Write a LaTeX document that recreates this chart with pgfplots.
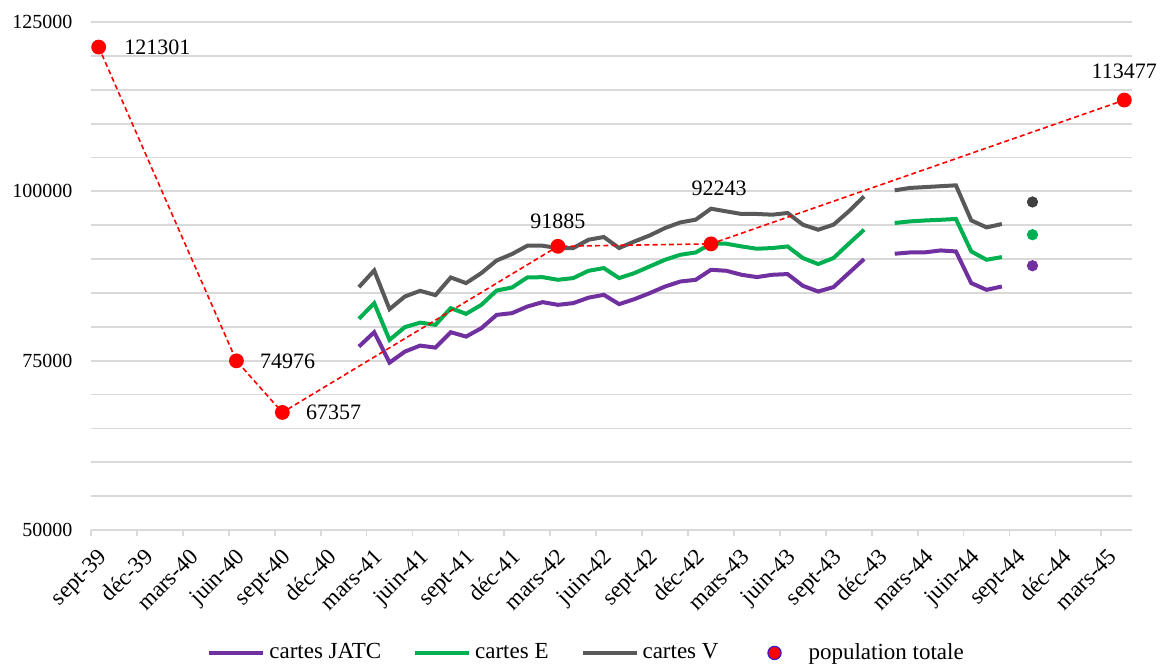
\documentclass[border=0pt]{standalone}
\usepackage{fontspec}
\setmainfont{Liberation Serif}
\usepackage{pgfplots}
\pgfplotsset{compat=1.18}
\definecolor{cJ}{HTML}{7030A0}
\definecolor{cE}{HTML}{00B050}
\definecolor{cV}{HTML}{595959}
\definecolor{cVd}{HTML}{404040}
\definecolor{gridc}{HTML}{D9D9D9}
\definecolor{popc}{HTML}{FF0000}
\newcommand{\fs}{\fontsize{11}{13}\selectfont}
\newcommand{\fl}{\fontsize{11.5}{13.5}\selectfont}
\newcommand{\ft}{\fontsize{10}{12}\selectfont}
\newcommand{\fx}{\fontsize{11.5}{13.5}\selectfont}
\begin{document}
\fs
\begin{tikzpicture}
\begin{axis}[
 scale only axis, width=520.5pt, height=254pt,
 xmin=0, xmax=68, ymin=50000, ymax=125000,
 scaled y ticks=false,
 axis x line*=bottom, axis y line*=left,
 y axis line style={draw=none},
 x axis line style={draw=gridc, line width=0.9pt, -},
 xtick={0,3,...,66},
 xticklabels={sept-39,déc-39,mars-40,juin-40,sept-40,déc-40,mars-41,juin-41,sept-41,déc-41,mars-42,juin-42,sept-42,déc-42,mars-43,juin-43,sept-43,déc-43,mars-44,juin-44,sept-44,déc-44,mars-45},
 x tick label style={xshift=3pt, yshift=-4pt, rotate=45, anchor=north east, font=\fx, inner sep=1pt},
 xtick style={draw=gridc, line width=0.9pt},
 tick align=outside, major tick length=3pt, minor tick length=0pt,
 ytick={50000,75000,100000,125000},
 yticklabels={50000,75000,100000,125000},
 y tick label style={font=\ft, xshift=-2.5pt},
 minor ytick={55000,60000,...,120000},
 ytick style={draw=none},
 ymajorgrids, yminorgrids,
 major grid style={draw=gridc, line width=0.9pt},
 minor grid style={draw=gridc, line width=0.9pt},
 unbounded coords=jump,
 clip=false,
 legend columns=4,
 legend cell align=left,
 legend style={draw=none, fill=none, font=\fl, at={(axis description cs:0.477,-0.242)}, anchor=center,
   /tikz/every even column/.append style={column sep=14pt}},
 legend image code/.code={\draw[#1] (0pt,0pt) -- (27pt,0pt);},
]
\addplot[cJ, line width=2pt, no markers] coordinates {
(17.5,77076) (18.5,79205) (19.5,74709) (20.5,76336) (21.5,77224) (22.5,76928) (23.5,79205) (24.5,78554) (25.5,79797) (26.5,81764) (27.5,82015) (28.5,82992) (29.5,83642) (30.5,83243) (31.5,83494) (32.5,84300) (33.5,84722) (34.5,83347) (35.5,84086) (36.5,84974) (37.5,85949) (38.5,86689) (39.5,86940) (40.5,88420) (41.5,88272) (42.5,87680) (43.5,87340) (44.5,87680) (45.5,87784) (46.5,86053) (47.5,85210) (48.5,85861) (49.5,87931) (50.5,90002) (51.5,nan) (52.5,90786) (53.5,90978) (54.5,91000) (55.5,91274) (56.5,91126) (57.5,86452) (58.5,85462) (59.5,85949)
};
\addlegendentry{cartes JATC}
\addplot[cE, line width=2pt, no markers] coordinates {
(17.5,81172) (18.5,83494) (19.5,78066) (20.5,79945) (21.5,80625) (22.5,80286) (23.5,82755) (24.5,81912) (25.5,83243) (26.5,85357) (27.5,85801) (28.5,87281) (29.5,87330) (30.5,86940) (31.5,87192) (32.5,88272) (33.5,88670) (34.5,87192) (35.5,87931) (36.5,88915) (37.5,89898) (38.5,90638) (39.5,90978) (40.5,92265) (41.5,92265) (42.5,91866) (43.5,91525) (44.5,91628) (45.5,91866) (46.5,90150) (47.5,89263) (48.5,90150) (49.5,92265) (50.5,94336) (51.5,nan) (52.5,95326) (53.5,95563) (54.5,95700) (55.5,95800) (56.5,95918) (57.5,91126) (58.5,89898) (59.5,90297)
};
\addlegendentry{cartes E}
\addplot[cV, line width=2pt, no markers] coordinates {
(17.5,85860) (18.5,88316) (19.5,82607) (20.5,84470) (21.5,85314) (22.5,84678) (23.5,87281) (24.5,86452) (25.5,87931) (26.5,89795) (27.5,90741) (28.5,91969) (29.5,91969) (30.5,91628) (31.5,91628) (32.5,92857) (33.5,93256) (34.5,91628) (35.5,92605) (36.5,93492) (37.5,94587) (38.5,95415) (39.5,95814) (40.5,97441) (41.5,97042) (42.5,96657) (43.5,96657) (44.5,96554) (45.5,96805) (46.5,95075) (47.5,94336) (48.5,95075) (49.5,97042) (50.5,99260) (51.5,nan) (52.5,100148) (53.5,100503) (54.5,100630) (55.5,100760) (56.5,100887) (57.5,95711) (58.5,94676) (59.5,95178)
};
\addlegendentry{cartes V}
\addplot[popc, line width=0.8pt, dash pattern=on 2.5pt off 1.6pt, mark=*, mark size=3.3pt, mark options={solid, fill=popc, draw=popc},
  legend image code/.code={\path[draw=none] (0pt,0pt) -- (27pt,0pt); \draw[solid, fill=popc, draw=cJ!55!blue, line width=0.6pt] (12pt,0pt) circle (3.3pt);}] coordinates {
(0.5,121301) (9.5,74976) (12.5,67357) (30.5,91885) (40.5,92243) (67.5,113477)
};
\addlegendentry{population totale}
\addplot[only marks, mark=*, mark size=2.6pt, cJ, forget plot] coordinates {(61.5,89017)};
\addplot[only marks, mark=*, mark size=2.6pt, cE, forget plot] coordinates {(61.5,93596)};
\addplot[only marks, mark=*, mark size=2.6pt, cVd, forget plot] coordinates {(61.5,98432)};
\node[anchor=west, xshift=9pt, font=\fs] at (axis cs:0.5,121301) {121301};
\node[anchor=west, xshift=8pt, font=\fs] at (axis cs:9.5,74976) {74976};
\node[anchor=west, xshift=8pt, font=\fs] at (axis cs:12.5,67357) {67357};
\node[anchor=south, yshift=5pt, font=\fs] at (axis cs:30.5,91885) {91885};
\node[anchor=south, yshift=20pt, xshift=4pt, font=\fs] at (axis cs:40.5,92243) {92243};
\node[anchor=south, yshift=7pt, font=\fs] at (axis cs:67.5,113477) {113477};
\end{axis}
\pgfresetboundingbox
\path[use as bounding box] (-45.5pt,-67pt) rectangle (536pt,265pt);
\end{tikzpicture}
\end{document}
